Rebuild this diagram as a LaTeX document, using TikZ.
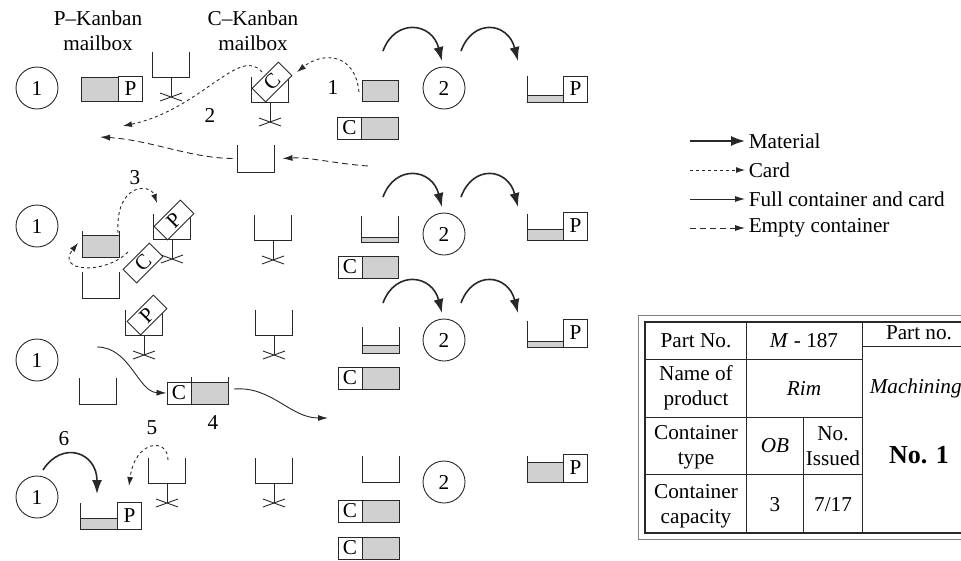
\documentclass[tikz,border=0pt]{standalone}
\usepackage{fontspec}
\setmainfont{Liberation Serif}
\usetikzlibrary{arrows.meta}
\definecolor{boxgray}{RGB}{208,208,208}
\definecolor{ink}{RGB}{40,40,40}

\tikzset{
  stn/.style={shape=circle, draw=ink, minimum size=42pt, inner sep=0pt},
  card/.style={draw=ink, fill=white, minimum width=24pt, minimum height=24pt, inner sep=0pt},
  tiltcard/.style={card, minimum width=37pt, minimum height=19pt, rotate=45},
  flowmat/.style={line width=1.6pt, -{Latex[length=14pt,width=10pt]}},
  flowcard/.style={dash pattern=on 3pt off 3pt, -{Latex[length=9pt,width=6pt]}},
  flowfull/.style={-{Latex[length=10pt,width=6pt]}},
  flowempty/.style={dash pattern=on 6pt off 4pt, -{Latex[length=10pt,width=6pt]}},
  pics/mailbox/.style={code={
    \draw (-18.5,-25) -- (-18.5,0) -- (18.5,0) -- (18.5,-25);
    \draw (0,0) -- (0,20);
    \draw (-11,16) -- (11,24) (-11,24) -- (11,16);
  }},
  pics/bin/.style={code={
    \draw[fill=boxgray] (0,0) rectangle (37,-#1);
    \draw (0,-26) -- (0,0) -- (37,0) -- (37,-26);
  }},
}

\begin{document}
\begin{tikzpicture}[x=1pt, y=-1pt, line width=0.9pt, draw=ink,
    font=\fontsize{21.2}{25}\selectfont]
    \useasboundingbox (0,0) rectangle (961,560);
    \clip (0,0) rectangle (961,560);

    % headers
    \node[align=center] (pmail) at (98,31) {P--Kanban\\mailbox};
    \node[align=center] (cmail) at (253,31) {C--Kanban\\mailbox};

    % row 1
    \node[stn] (s11) at (37,88) {1};
    \draw[fill=boxgray] (81,77) rectangle (118,101);
    \node[card, minimum height=25pt] (pc1) at (130.5,88.5) {P};
    \pic at (171,77) {mailbox};
    \pic at (270,102) {mailbox};
    \node[tiltcard] (cc1) at (272,82) {C};
    \draw[fill=boxgray] (362,80) rectangle (398,101);
    \node[card, minimum height=22pt] (ca1) at (349.5,128) {C};
    \draw[fill=boxgray] (361.5,117) rectangle (398,139);
    \node[stn] (s21) at (444,88) {2};
    \pic at (527,102) {bin=7};
    \node[card, minimum height=26pt] (pb1) at (575.5,89) {P};

    \coordinate (k1a) at (359,92);
    \coordinate (k1b) at (297,72);
    \draw[flowcard] (k1a) .. controls (355,52) and (322,52) .. (k1b);
    \node (n1) at (333,87) {1};
    \coordinate (k2a) at (262,72);
    \coordinate (k2b) at (123,126);
    \draw[flowcard] (k2a) .. controls (240,45) and (200,110) .. (k2b);
    \node (n2) at (210,115) {2};
    \node[minimum width=37pt, minimum height=27pt, inner sep=0pt] (eb) at (255.5,158.5) {};
    \draw (237,145) -- (237,172) -- (274,172) -- (274,145);
    \coordinate (e1a) at (368,166);
    \coordinate (e2b) at (100,137);
    \draw[flowempty] (e1a) .. controls (330,163) and (310,157) .. ([xshift=8pt]eb.east);
    \draw[flowempty] ([xshift=-4pt]eb.west) .. controls (190,158) and (150,140) .. (e2b);

    \coordinate (ma1) at (383,51);
    \coordinate (mb1) at (442,61);
    \coordinate (mc1) at (461,51);
    \coordinate (md1) at (518,61);
    \draw[flowmat] (ma1) .. controls (395,18) and (432,22) .. (mb1);
    \draw[flowmat] (mc1) .. controls (473,18) and (508,22) .. (md1);

    % row 2
    \node[stn] (s12) at (37,226) {1};
    \pic at (82,257) {bin=22};
    \pic at (82,298) {bin=0};
    \pic at (172,239) {mailbox};
    \node[tiltcard] (pc2) at (174,220) {P};
    \node[tiltcard] (cc2) at (143,263) {C};
    \pic at (273,240) {mailbox};
    \pic at (361,242) {bin=5};
    \node[card, minimum height=22pt] (ca2) at (350,267) {C};
    \draw[fill=boxgray] (362,256) rectangle (398,278);
    \node[stn] (s22) at (444,234) {2};
    \pic at (527,240) {bin=11};
    \node[card, minimum height=28pt] (pb2) at (575.5,226) {P};

    \coordinate (k3a) at (118,233);
    \coordinate (k3b) at (157,203);
    \draw[flowcard] (k3a) .. controls (115,183) and (150,183) .. (k3b);
    \node (n3) at (135,178) {3};
    \coordinate (k4a) at (128,252);
    \coordinate (k4b) at (78,243);
    \draw[flowcard] (k4a) .. controls (105,275) and (55,272) .. (k4b);

    \coordinate (ma2) at (383,197);
    \coordinate (mb2) at (442,207);
    \coordinate (mc2) at (461,197);
    \coordinate (md2) at (518,207);
    \draw[flowmat] (ma2) .. controls (395,164) and (432,168) .. (mb2);
    \draw[flowmat] (mc2) .. controls (473,164) and (508,168) .. (md2);

    % row 3
    \node[stn] (s13) at (37,360) {1};
    \pic at (144,335) {mailbox};
    \node[tiltcard] (pc3) at (147,315) {P};
    \pic at (274,335) {mailbox};
    \pic at (79,404) {bin=0};
    \node[card, minimum height=22pt] (cm3) at (179,393) {C};
    \draw[fill=boxgray] (191,382) rectangle (228,404);
    \draw (191,377) -- (191,404) (228,377) -- (228,404);
    \node (n4) at (213,423) {4};
    \coordinate (f1a) at (97,347);
    \coordinate (f2b) at (328,418);
    \draw[flowfull] (f1a) .. controls (130,347) and (138,392) .. (cm3.west);
    \draw[flowfull] (234,389) .. controls (272,386) and (290,418) .. (f2b);
    \pic at (362,353) {bin=8};
    \node[card, minimum height=22pt] (ca3) at (350,378) {C};
    \draw[fill=boxgray] (362,367) rectangle (399,389);
    \node[stn] (s23) at (444,340) {2};
    \pic at (527,347) {bin=6};
    \node[card, minimum height=28pt] (pb3) at (575.5,333) {P};

    \coordinate (ma3) at (383,303);
    \coordinate (mb3) at (442,313);
    \coordinate (mc3) at (461,303);
    \coordinate (md3) at (518,313);
    \draw[flowmat] (ma3) .. controls (395,270) and (432,274) .. (mb3);
    \draw[flowmat] (mc3) .. controls (473,270) and (508,274) .. (md3);

    % row 4
    \node[stn] (s14) at (37,497) {1};
    \pic at (80,529) {bin=11};
    \node[card, minimum height=27pt] (pc4) at (129.5,515.5) {P};
    \pic at (167,483) {mailbox};
    \pic at (274,483) {mailbox};
    \pic at (362,482) {bin=0};
    \node[card, minimum height=22pt] (ca4) at (350,511) {C};
    \draw[fill=boxgray] (362,500) rectangle (399,522);
    \node[card, minimum height=22pt] (cb4) at (350,548) {C};
    \draw[fill=boxgray] (362,537) rectangle (399,559);
    \node[stn] (s24) at (444,482) {2};
    \pic at (527,482) {bin=20};
    \node[card, minimum height=28pt] (pb4) at (575.5,468) {P};

    \coordinate (m6a) at (43,470);
    \coordinate (m6b) at (97,494);
    \draw[flowmat] (m6a) .. controls (62,440) and (97,452) .. (m6b);
    \node (n6) at (64,439) {6};
    \coordinate (k5a) at (168,460);
    \coordinate (k5b) at (129,486);
    \draw[flowcard] (k5a) .. controls (168,437) and (135,440) .. (k5b);
    \node (n5) at (152,428) {5};

    % legend
    \node[anchor=west] (lgmat) at (745,141) {Material};
    \node[anchor=west] (lgcard) at (745,170) {Card};
    \node[anchor=west] (lgfull) at (745,199) {Full container and card};
    \node[anchor=west] (lgempty) at (745,228) {Empty container};
    \coordinate (lg1) at (690,141);
    \coordinate (lg2) at (690,170);
    \coordinate (lg3) at (690,199);
    \coordinate (lg4) at (690,228);
    \draw[flowmat] (lg1) -- (lgmat.west);
    \draw[flowcard] (lg2) -- (lgcard.west);
    \draw[flowfull] (lg3) -- (lgfull.west);
    \draw[flowempty] (lg4) -- (lgempty.west);

    % kanban card
    \draw[draw=gray, line width=1pt] (638,315) rectangle (1000,539);
    \draw[line width=1.1pt] (645,322) rectangle (995,533);
    \draw (746,322) -- (746,533);
    \draw (862,322) -- (862,533);
    \draw (803,417) -- (803,533);
    \draw (645,359) -- (862,359);
    \draw (645,417) -- (862,417);
    \draw (645,474) -- (862,474);
    \draw (862,346) -- (995,346);
    \node (t11) at (696,341) {Part No.};
    \node (t12) at (804,341) {\textit{M} - 187};
    \node[align=center] (t21) at (696,388) {Name of\\product};
    \node (t22) at (804,388) {\textit{Rim}};
    \node[align=center] (t31) at (696,447) {Container\\type};
    \node (t32) at (775,446) {\textit{OB}};
    \node[align=center] (t33) at (833,446) {No.\\Issued};
    \node[align=center] (t41) at (696,506) {Container\\capacity};
    \node (t42) at (775,505) {3};
    \node (t43) at (833,505) {7/17};
    \node (t51) at (919,333) {Part no.};
    \node[anchor=west] (t52) at (866,388) {\textit{Machining}};
    \node (t53) at (919,455) {\fontsize{26}{30}\selectfont\bfseries No. 1};
\end{tikzpicture}
\end{document}
